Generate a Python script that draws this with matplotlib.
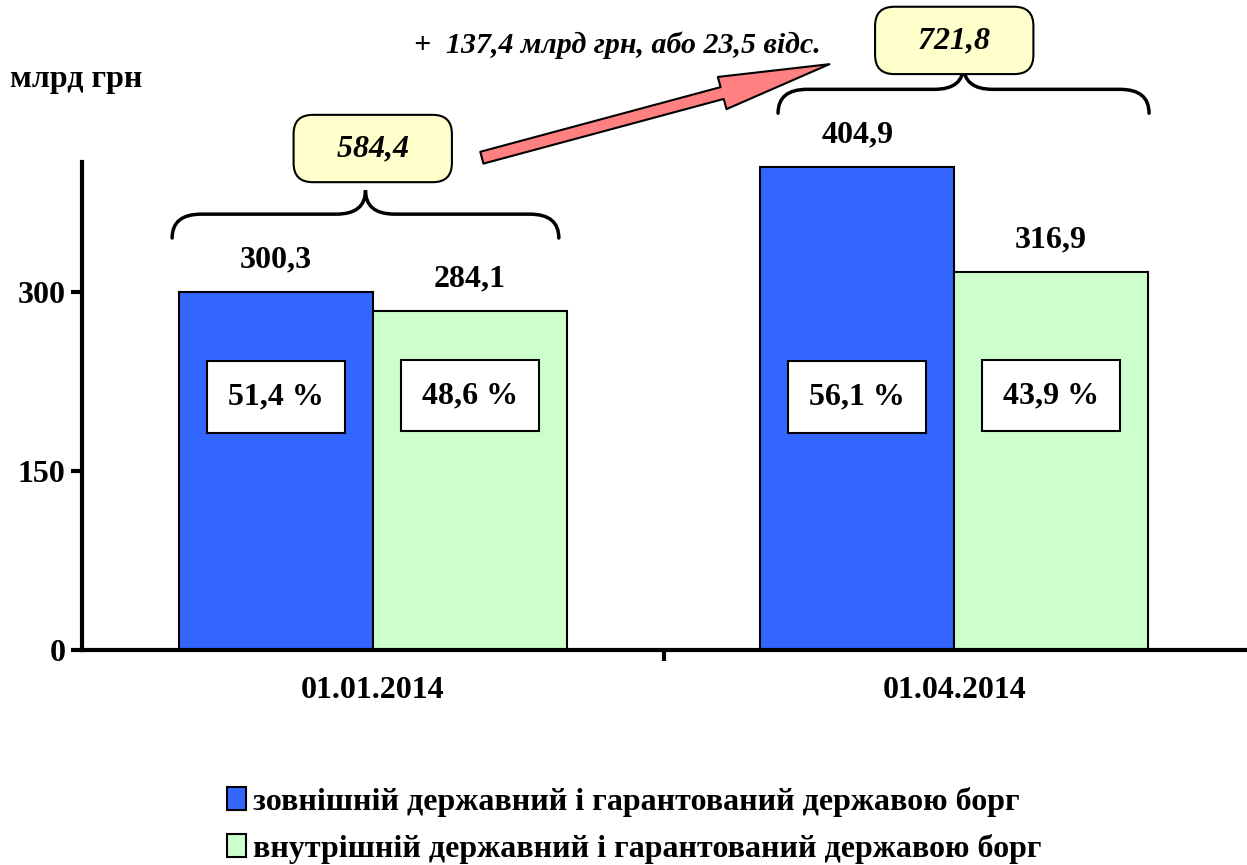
import matplotlib.pyplot as plt
from matplotlib.path import Path
from matplotlib.patches import PathPatch, FancyArrowPatch, Patch
import numpy as np

dates = ["01.01.2014", "01.04.2014"]
external = [300.3, 404.9]
internal = [284.1, 316.9]
ext_labels = ["300,3", "404,9"]
int_labels = ["284,1", "316,9"]
ext_share = ["51,4 %", "56,1 %"]
int_share = ["48,6 %", "43,9 %"]
totals = ["584,4", "721,8"]
series_names = ["зовнішній державний і гарантований державою борг",
                "внутрішній державний і гарантований державою борг"]
growth_text = "+  137,4 млрд грн, або 23,5 відс."

plt.rcParams['font.family'] = ['Liberation Serif', 'DejaVu Serif']
plt.rcParams['font.weight'] = 'bold'

BLUE = '#3366FF'
GREEN = '#CCFFCC'
YELLOW = '#FFFFCC'
SALMON = '#FF8080'
FS = 23


def draw_brace(ax, x0, x1, y, h=40):
    # curly brace opening downwards, tip pointing up
    xm = (x0 + x1) / 2
    r = 0.05
    yh = y + h / 2
    verts = [(x0, y), (x0, yh), (x0 + r, yh),
             (xm - r, yh),
             (xm, yh), (xm, y + h),
             (xm, yh), (xm + r, yh),
             (x1 - r, yh),
             (x1, yh), (x1, y)]
    codes = [Path.MOVETO, Path.CURVE3, Path.CURVE3,
             Path.LINETO,
             Path.CURVE3, Path.CURVE3,
             Path.CURVE3, Path.CURVE3,
             Path.LINETO,
             Path.CURVE3, Path.CURVE3]
    ax.add_patch(PathPatch(Path(verts, codes), fill=False, lw=2.5,
                           ec='black', clip_on=False, capstyle='round'))


fig = plt.figure(figsize=(12.47, 8.65), dpi=100)
ax = fig.add_axes([82 / 1247, 1 - 650 / 865, (1245 - 82) / 1247, (650 - 162) / 865])

x = np.arange(len(dates))
w = 1 / 3
ax.bar(x - w / 2, external, w, color=BLUE, edgecolor='black', lw=1.5, zorder=2)
ax.bar(x + w / 2, internal, w, color=GREEN, edgecolor='black', lw=1.5, zorder=2)

ax.set_xlim(-0.5, 1.5)
ax.set_ylim(0, 409)
ax.set_yticks([0, 150, 300])
ax.set_yticklabels(["0", "150", "300"], fontsize=FS, fontweight='bold')
ax.set_xticks(x)
ax.set_xticklabels(dates, fontsize=FS, fontweight='bold')
ax.tick_params(axis='x', length=0, pad=19)
ax.set_xticks([0.5], minor=True)
ax.tick_params(axis='x', which='minor', length=8, width=3, direction='out')
ax.tick_params(axis='y', length=8, width=3, pad=4)
for s in ['top', 'right']:
    ax.spines[s].set_visible(False)
for s in ['left', 'bottom']:
    ax.spines[s].set_linewidth(3)

brace_span = [(-0.345, 0.32), (-0.303, 0.335)]
box_offset = [120, 106]
box = dict(boxstyle='square,pad=0.66', fc='white', ec='black', lw=1.5)
for i in range(len(dates)):
    xe, xi = x[i] - w / 2, x[i] + w / 2
    ax.text(xe, external[i] + 27, ext_labels[i], ha='center', va='center',
            fontsize=FS, fontweight='bold')
    ax.text(xi, internal[i] + 27, int_labels[i], ha='center', va='center',
            fontsize=FS, fontweight='bold')
    ax.text(xe, 212, ext_share[i], ha='center', va='center', fontsize=FS,
            fontweight='bold', bbox=box, zorder=3)
    ax.text(xi, 213, int_share[i], ha='center', va='center', fontsize=FS,
            fontweight='bold', bbox=box, zorder=3)
    top = max(external[i], internal[i])
    b0, b1 = brace_span[i]
    draw_brace(ax, x[i] + b0, x[i] + b1, top + 45, h=40)
    ax.text(x[i], top + box_offset[i], "   " + totals[i] + "   ", ha='center',
            va='center', fontsize=FS, fontweight='bold', fontstyle='italic',
            clip_on=False,
            bbox=dict(boxstyle='round,pad=0.6,rounding_size=0.6', fc=YELLOW,
                      ec='black', lw=1.5))

arrow = FancyArrowPatch((0.183, 412), (0.79, 491.6),
                        arrowstyle='simple,head_width=1.5,head_length=5,tail_width=0.55',
                        mutation_scale=16, fc=SALMON, ec='black', lw=1.5,
                        clip_on=False)
ax.add_patch(arrow)

fig.text(617 / 1247, 1 - 45 / 865, growth_text, ha='center', va='center',
         fontsize=21.5, fontweight='bold', fontstyle='italic')
fig.text(10 / 1247, 1 - 80 / 865, "млрд грн", ha='left', va='center',
         fontsize=FS, fontweight='bold')

handles = [Patch(fc=BLUE, ec='black', lw=1.5), Patch(fc=GREEN, ec='black', lw=1.5)]
fig.legend(handles, series_names, loc='upper left',
           bbox_to_anchor=(227 / 1247, 1 - 787 / 865), frameon=False,
           prop=dict(family='Liberation Serif', weight='bold', size=FS),
           handlelength=0.58, handleheight=0.72, handletextpad=0.22,
           labelspacing=0.53, borderaxespad=0, borderpad=0)

fig.savefig('out.png', dpi=100)
